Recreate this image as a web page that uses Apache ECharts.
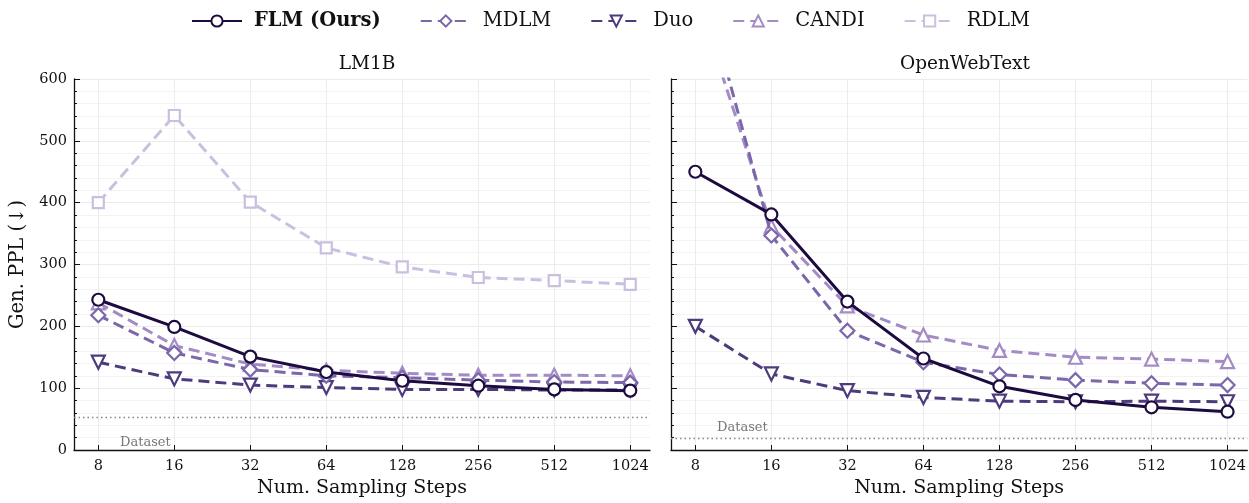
<!DOCTYPE html>
<html>
<head>
<meta charset="utf-8">
<script src="https://cdn.jsdelivr.net/npm/echarts@6/dist/echarts.min.js"></script>
<style>
html,body{margin:0;padding:0;background:#fff;}
#chart{width:1249px;height:503px;}
</style>
</head>
<body>
<div id="chart"></div>
<script>
// ---- data ----
const steps = ['8', '16', '32', '64', '128', '256', '512', '1024'];
const panelTitles = ['LM1B', 'OpenWebText'];
const seriesNames = ['FLM (Ours)', 'MDLM', 'Duo', 'CANDI', 'RDLM'];
// LM1B
const lm1bFLM   = [243, 199, 151, 126, 112, 104, 98, 96];
const lm1bMDLM  = [218, 157, 130, 120, 117, 113, 110, 109];
const lm1bDuo   = [142, 115, 105, 101, 98, 98, 97, 97];
const lm1bCANDI = [238, 169, 139, 129, 124, 121, 121, 120];
const lm1bRDLM  = [400, 541, 401, 327, 296, 279, 274, 268];
const lm1bDataset = 53;
// OpenWebText
const owtFLM   = [450, 381, 240, 148, 103, 81, 69, 62];
const owtMDLM  = [800, 347, 193, 142, 122, 113, 108, 105];
const owtDuo   = [200, 123, 96, 85, 79, 78, 79, 78];
const owtCANDI = [740, 362, 233, 186, 161, 150, 147, 143];
const owtRDLM  = [null, null, null, null, null, null, null, null];
const owtDataset = 19;
const yTicks = [0, 100, 200, 300, 400, 500, 600];

// ---- style ----
const FONT = 'DejaVu Serif';
const colors = ['#1d0b40', '#7b67aa', '#4d3b7b', '#a48bc5', '#cbbfe0'];
const symbols = ['circle', 'diamond', 'triangle', 'triangle', 'rect'];
const symbolSizes = [12, 14, 13, 13, 11];
const symbolRotate = [0, 0, 180, 0, 0];
const lineTypes = ['solid', [11, 6], [11, 6], [11, 6], [11, 6]];

const panels = [
  [lm1bFLM, lm1bMDLM, lm1bDuo, lm1bCANDI, lm1bRDLM],
  [owtFLM, owtMDLM, owtDuo, owtCANDI, owtRDLM]
];
const datasets = [lm1bDataset, owtDataset];

const grids = [
  {left: 74, right: 599, top: 79, bottom: 49.5},
  {left: 671, right: 1, top: 79, bottom: 49.5}
];

const idx = steps.map((s, i) => i);

function xAxis(g) {
  return {
    type: 'value', gridIndex: g, min: -0.32, max: 7.26,
    name: 'Num. Sampling Steps', nameLocation: 'middle', nameGap: 29,
    nameTextStyle: {fontFamily: FONT, fontSize: 19, color: '#111'},
    axisLine: {show: true, onZero: false, lineStyle: {color: '#111', width: 1.3}},
    axisTick: {show: true, inside: true, length: 5, customValues: idx, lineStyle: {color: '#111'}},
    axisLabel: {customValues: idx, formatter: v => steps[Math.round(v)], fontFamily: FONT, fontSize: 14.5, color: '#111', margin: 9},
    splitLine: {show: true, lineStyle: {color: '#ececec', width: 1}},
    minorTick: {show: false}
  };
}
function yAxis(g) {
  return {
    type: 'value', gridIndex: g, min: 0, max: 600, interval: 100,
    name: g === 0 ? 'Gen. PPL (\u2193)' : '', nameLocation: 'middle', nameGap: 46, nameRotate: 90,
    nameTextStyle: {fontFamily: FONT, fontSize: 19.5, color: '#111'},
    axisLine: {show: true, onZero: false, lineStyle: {color: '#111', width: 1.3}},
    axisTick: {show: true, inside: true, length: 6, lineStyle: {color: '#111'}},
    minorTick: {show: true, splitNumber: 5, length: 3, lineStyle: {color: '#111'}},
    axisLabel: {show: g === 0, fontFamily: FONT, fontSize: 14.5, color: '#111', margin: 7,
      customValues: yTicks},
    splitLine: {show: true, lineStyle: {color: '#ebebeb', width: 1}},
    minorSplitLine: {show: true, lineStyle: {color: '#f3f3f3', width: 1}}
  };
}

const series = [];
panels.forEach((vals, g) => {
  vals.forEach((arr, k) => {
    const s = {
      name: seriesNames[k], type: 'line', xAxisIndex: g, yAxisIndex: g,
      data: arr.map((v, i) => [i, v]),
      symbol: symbols[k], symbolSize: symbolSizes[k], symbolRotate: symbolRotate[k],
      showAllSymbol: true, clip: true,
      z: 10 - k,
      lineStyle: {color: colors[k], width: 3, type: lineTypes[k]},
      itemStyle: {color: '#ffffff', borderColor: colors[k], borderWidth: 2.2},
      emphasis: {disabled: true}
    };
    if (k === 0) {
      s.markLine = {
        silent: true, symbol: ['none', 'none'],
        lineStyle: {color: '#888', type: [1.5, 3], width: 1.4},
        label: {
          show: true, formatter: 'Dataset',
          position: g === 0 ? 'insideStartBottom' : 'insideStartTop',
          fontFamily: FONT, fontSize: 13, color: '#777',
          distance: g === 0 ? [46, 19] : [46, 4]
        },
        data: [{yAxis: datasets[g]}]
      };
    }
    series.push(s);
  });
});

const chart = echarts.init(document.getElementById('chart'), null, {renderer: 'canvas'});
chart.setOption({
  animation: false,
  backgroundColor: '#ffffff',
  title: [
    {text: panelTitles[0], left: 362, top: 50, textAlign: 'center',
      textStyle: {fontFamily: FONT, fontSize: 18.5, fontWeight: 'normal', color: '#111'}},
    {text: panelTitles[1], left: 960, top: 50, textAlign: 'center',
      textStyle: {fontFamily: FONT, fontSize: 18.5, fontWeight: 'normal', color: '#111'}}
  ],
  legend: {
    top: 6, left: 186, itemWidth: 50, itemHeight: 14, itemGap: 39,
    data: seriesNames.map((n, k) => ({
      name: n,
      textStyle: {fontFamily: FONT, fontSize: 19.5, color: '#111', fontWeight: k === 0 ? 'bold' : 'normal', padding: [0, 0, 0, 7]}
    })),
    textStyle: {fontFamily: FONT, fontSize: 19.5, color: '#111'}
  },
  grid: grids,
  xAxis: [xAxis(0), xAxis(1)],
  yAxis: [yAxis(0), yAxis(1)],
  series: series
});
</script>
</body>
</html>
